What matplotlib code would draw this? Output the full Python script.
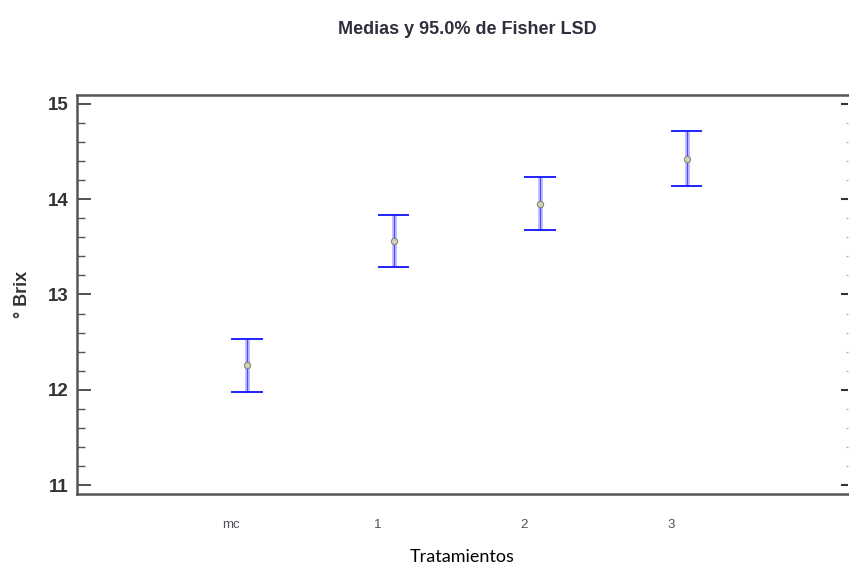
import matplotlib
matplotlib.use("Agg")
import matplotlib.pyplot as plt
import matplotlib.transforms as mtransforms
from matplotlib.ticker import MultipleLocator

categories = ["mc", "1", "2", "3"]
means = [12.26, 13.56, 13.95, 14.42]
lower = [11.98, 13.29, 13.68, 14.14]
upper = [12.53, 13.83, 14.23, 14.72]
yticks = [11, 12, 13, 14, 15]

fig = plt.figure(figsize=(8.49, 5.65), dpi=100)
ax = fig.add_axes([0.0907, 0.1257, 0.908, 0.7062])

x = list(range(1, len(categories) + 1))
for xi, m, lo, hi in zip(x, means, lower, upper):
    ax.plot([xi, xi], [lo, hi], color="#9090ff", lw=3.6, alpha=0.55, solid_capstyle="butt", zorder=2)
    ax.plot([xi, xi], [lo, hi], color="#3030ff", lw=0.9, alpha=0.8, zorder=2)
    ax.plot([xi - 0.1, xi + 0.1], [hi, hi], color="#2020ff", lw=1.4, zorder=3)
    ax.plot([xi - 0.1, xi + 0.1], [lo, lo], color="#2020ff", lw=1.4, zorder=3)
ax.plot(x, means, linestyle="none", marker="o", ms=4.5, mfc="#d0d0c0", mec="#8a8a70", mew=0.8, zorder=4)

ax.set_xlim(-0.16, 5.1)
ax.set_ylim(10.906, 15.094)

ax.set_xticks(x)
ax.set_xticklabels(categories, fontsize=9.5, color="#505060", family="Liberation Sans")
ax.tick_params(axis="x", length=0, pad=18)
offset = mtransforms.ScaledTranslation(-16 / 100, 0, fig.dpi_scale_trans)
for lab in ax.get_xticklabels():
    lab.set_transform(lab.get_transform() + offset)

ax.set_yticks(yticks)
ax.set_yticklabels([str(v) for v in yticks], fontsize=13.5, fontweight="bold", color="#333333",
                   family="Liberation Sans")
ax.yaxis.set_minor_locator(MultipleLocator(0.2))
ax.tick_params(axis="y", which="major", direction="in", length=10, width=1.2, color="#333333",
               left=True, right=False, pad=6)
ax.tick_params(axis="y", which="minor", direction="in", length=5.5, width=1.0, color="#555555",
               left=True, right=False)

ax2 = ax.twinx()
ax2.set_ylim(ax.get_ylim())
ax2.set_yticks(yticks)
ax2.yaxis.set_minor_locator(MultipleLocator(0.2))
ax2.tick_params(axis="y", which="major", direction="in", length=5, width=1.5, color="#333333",
                labelright=False)
ax2.tick_params(axis="y", which="minor", direction="in", length=1.5, width=0.8, color="#aaaaaa")
for s in ax2.spines.values():
    s.set_visible(False)

for name, s in ax.spines.items():
    s.set_color("#555555")
    s.set_linewidth(1.8)
ax.spines["right"].set_visible(False)

ax.set_xlabel("Tratamientos", fontsize=13, family="Lato", labelpad=13, color="black")
ax.set_ylabel("° Brix", fontsize=13, fontweight="bold", color="#333333", labelpad=12,
              family="Liberation Sans")

fig.text(0.551, 0.947, "Medias y 95.0% de Fisher LSD", ha="center", va="center",
         fontsize=13, fontweight="bold", color="#2e2e3c", family="Liberation Sans")

fig.savefig("out.png", dpi=100)
